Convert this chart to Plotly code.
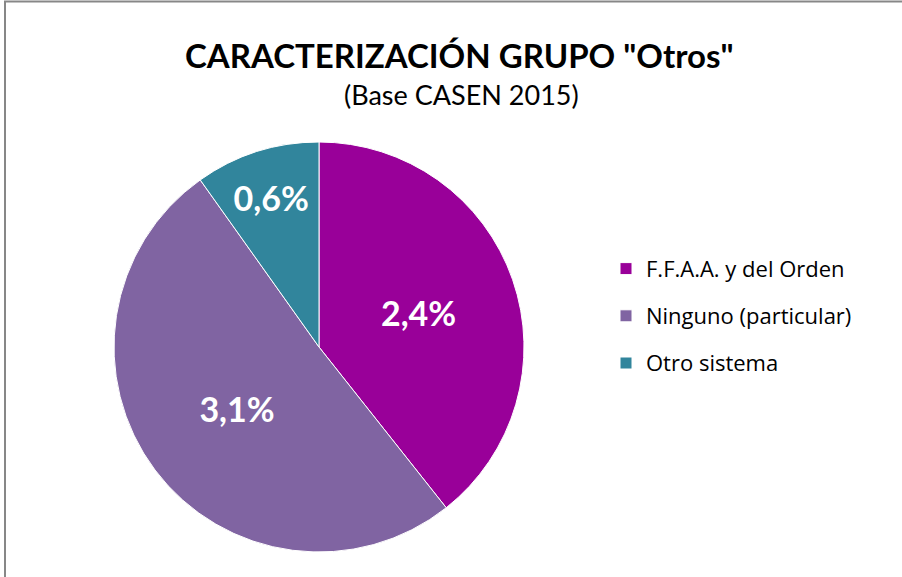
import plotly.graph_objects as go

categories = ["F.F.A.A. y del Orden", "Ninguno (particular)", "Otro sistema"]
values = [2.4, 3.1, 0.6]
colors = ["#990099", "#8064A2", "#31859C"]
title_text = 'CARACTERIZACIÓN GRUPO "Otros"'
subtitle_text = "(Base CASEN 2015)"

FONT = "Lato"
LEGEND_FONT = "Open Sans"

legend_labels = ["<span style='font-size:22px;baseline-shift:5px'>" + c + "</span>" for c in categories]

fig = go.Figure(go.Pie(
    labels=legend_labels,
    values=values,
    sort=False,
    direction="clockwise",
    rotation=0,
    marker=dict(colors=colors, line=dict(color="white", width=1)),
    texttemplate="%{value:.1f}%",
    textposition="inside",
    insidetextorientation="horizontal",
    textfont=dict(family=FONT, size=34, color="white", weight="bold"),
    hovertemplate="%{value:.1f}%<extra></extra>",
))

fig.update_layout(
    width=902, height=577,
    separators=",.",
    margin=dict(l=114, r=378, t=142, b=25),
    paper_bgcolor="white",
    plot_bgcolor="white",
    showlegend=True,
    legend=dict(
        x=(606 - 114) / 410, y=(552 - 316) / 410, xanchor="left", yanchor="middle",
        font=dict(family=LEGEND_FONT, size=34, color="#000000"),
        itemwidth=30, tracegroupgap=0,
        bgcolor="rgba(0,0,0,0)",
    ),
    annotations=[
        dict(text="<b>" + title_text + "</b>", xref="paper", yref="paper",
             x=(459 - 114) / 410, y=(552 - 55) / 410, xanchor="center", yanchor="middle",
             showarrow=False, font=dict(family=FONT, size=33, color="#000000")),
        dict(text=subtitle_text, xref="paper", yref="paper",
             x=(461 - 114) / 410, y=(552 - 95) / 410, xanchor="center", yanchor="middle",
             showarrow=False, font=dict(family=FONT, size=27, color="#000000")),
    ],
    shapes=[
        dict(type="rect", xref="paper", yref="paper",
             x0=(5 - 114) / 410, x1=(1000 - 114) / 410,
             y0=(552 - 700) / 410, y1=(552 - 1.5) / 410,
             line=dict(color="#878787", width=2), fillcolor="rgba(0,0,0,0)", layer="below"),
    ],
)

fig.write_html(
    "out.html",
    config={"displayModeBar": False},
    post_script="document.body.style.margin='0';document.body.style.overflow='hidden';",
)
